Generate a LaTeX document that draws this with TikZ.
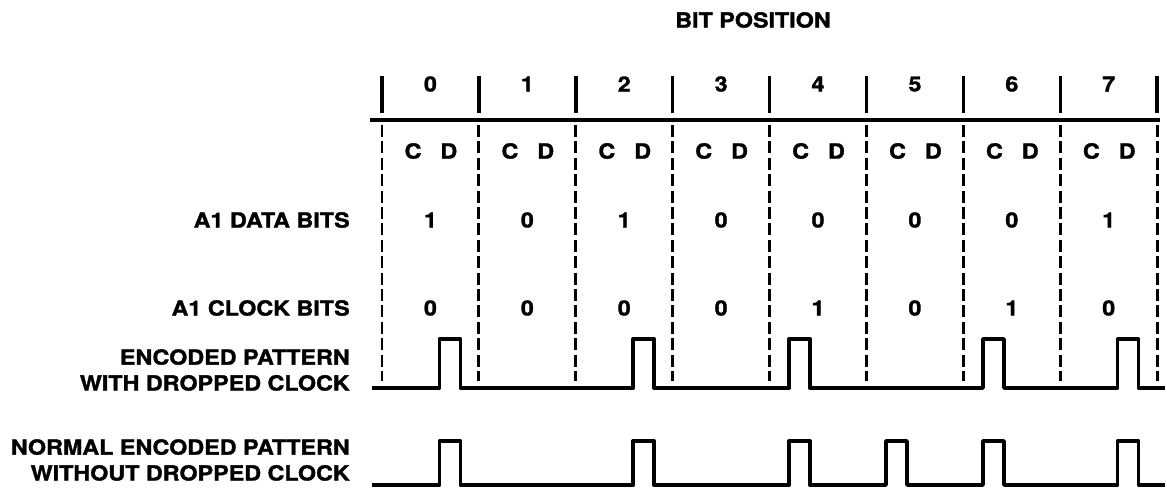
\documentclass[tikz,border=0pt]{standalone}
\usepackage{fontspec}
\setmainfont[FakeStretch=1.12, BoldFeatures={FakeBold=1.5}]{TeX Gyre Heros}
\usepackage{tikz}
\usetikzlibrary{positioning}
\tikzstyle{lbl} = [font=\fontsize{14.8}{18.4}\selectfont\bfseries, inner sep=0pt]
\tikzstyle{rowlabel} = [lbl, anchor=east, align=right]
\tikzstyle{tick} = [line width=2.5pt]
\tikzstyle{cellsep} = [line width=2pt, dash pattern=on 0.3cm off 0.11cm]
\tikzstyle{wave} = [line width=2.6pt, line join=round]

\begin{document}
\begin{tikzpicture}[x=0.025cm, y=-0.025cm]
\useasboundingbox (0,0) rectangle (1167,491);
% header
\node[lbl] (title) at (753,20) {BIT POSITION};
\draw[line width=3pt] (370,120) -- (1160,120);
\foreach \i in {0,...,8} {
  \draw[tick] ({382+96.9*\i},76) -- ({382+96.9*\i},113);
  \draw[cellsep] ({382+96.9*\i},125) -- ({382+96.9*\i},381);
}
% cells
\foreach \dat/\clk [count=\i from 0] in {1/0,0/0,1/0,0/0,0/1,0/0,0/1,1/0} {
  \node[lbl] (bit\i) at ({382+96.9*(\i+0.5)},84) {\i};
  \node[lbl] (c\i) at ({382+96.9*(\i+0.32)},151) {C};
  \node[lbl] (d\i) at ({382+96.9*(\i+0.69)},151) {D};
  \node[lbl] (data\i) at ({382+96.9*(\i+0.5)},220) {\dat};
  \node[lbl] (clock\i) at ({382+96.9*(\i+0.5)},308) {\clk};
}
% row labels
\node[rowlabel] (datalbl) at (350,220) {A1 DATA BITS};
\node[rowlabel] (clocklbl) at (350,308) {A1 CLOCK BITS};
\node[rowlabel] (droplbl) at (350,370) {ENCODED PATTERN\\WITH DROPPED CLOCK};
\node[rowlabel] (normlbl) at (350,460) {NORMAL ENCODED PATTERN\\WITHOUT DROPPED CLOCK};
% waveforms
\draw[wave] (372,388) \foreach \p in {0.70,2.70,4.31,6.31,7.70} {
  -- ({382+96.9*\p-10.5},388) -- ++(0,-49) -- ++(21,0) -- ++(0,49) } -- (1165,388);
\draw[wave] (372,485) \foreach \p in {0.70,2.70,4.31,5.31,6.31,7.70} {
  -- ({382+96.9*\p-10.5},485) -- ++(0,-44) -- ++(21,0) -- ++(0,44) } -- (1165,485);
\end{tikzpicture}
\end{document}
